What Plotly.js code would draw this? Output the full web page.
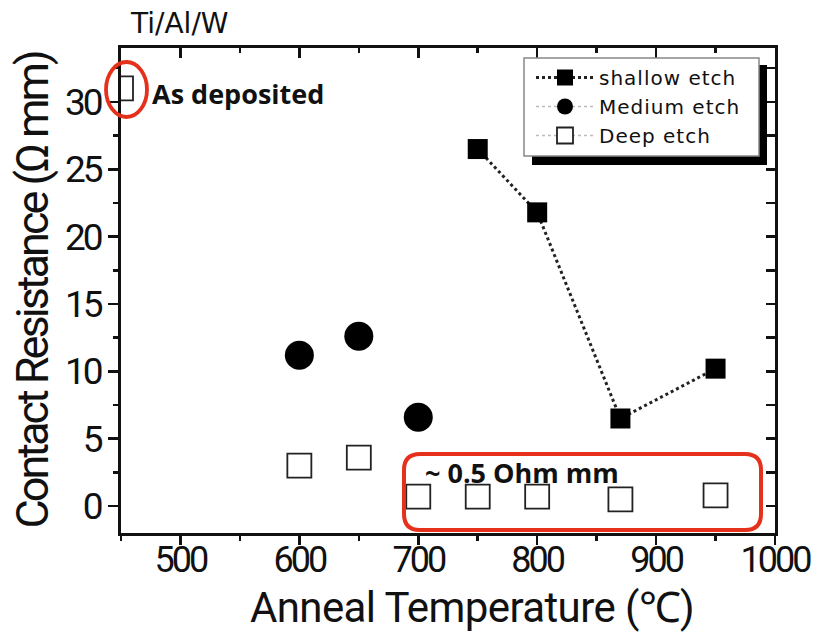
<!DOCTYPE html>
<html>
<head>
<meta charset="utf-8">
<script src="https://cdn.plot.ly/plotly-3.0.1.min.js"></script>
<style>
  html, body { margin: 0; padding: 0; background: #fff; }
  #chart { width: 821px; height: 632px; }
  .xtick text, .ytick text { letter-spacing: -3px; }
  .g-xtitle text { letter-spacing: -0.6px; }
  .g-xtitle { transform: translate(24px, 0px); }
  .g-ytitle text { letter-spacing: -3px; }
  .legendtext { letter-spacing: 1px; }
</style>
</head>
<body>
<div id="chart"></div>
<script>
// ---- data ----
const shallowTemp = [750, 800, 870, 950];
const shallowRes  = [26.5, 21.8, 6.5, 10.2];

const mediumTemp = [600, 650, 700];
const mediumRes  = [11.2, 12.6, 6.6];

const deepTemp = [450, 600, 650, 700, 750, 800, 870, 950];
const deepRes  = [31.0, 3.0, 3.6, 0.7, 0.7, 0.7, 0.5, 0.8];

const seriesNames = ['shallow etch', 'Medium etch', 'Deep etch'];
const xTitle = 'Anneal Temperature (℃)';
const yTitle = 'Contact Resistance (Ω mm)';
const stackLabel = 'Ti/Al/W';
const noteAsDep = 'As deposited';
const noteLow = '~ 0.5 Ohm mm';

// separate points with gaps so the legend shows a dotted line but no line joins the markers
function isolated(arr) {
  const out = [];
  arr.forEach((v, i) => { out.push(v); if (i < arr.length - 1) out.push(null); });
  return out;
}

const traces = [
  {
    name: seriesNames[0], x: shallowTemp, y: shallowRes,
    mode: 'lines+markers', type: 'scatter',
    line: { color: '#222', width: 3, dash: 'dot' },
    marker: { symbol: 'square', size: 20, color: '#000' }
  },
  {
    name: seriesNames[1], x: isolated(mediumTemp), y: isolated(mediumRes),
    mode: 'lines+markers', type: 'scatter', connectgaps: false,
    line: { color: '#bbb', width: 1.5, dash: 'dot' },
    marker: { symbol: 'circle', size: 29, color: '#000' }
  },
  {
    name: seriesNames[2], x: isolated(deepTemp), y: isolated(deepRes),
    mode: 'lines+markers', type: 'scatter', connectgaps: false,
    line: { color: '#bbb', width: 1.5, dash: 'dot' },
    marker: { symbol: 'square', size: 24, color: '#fff', line: { color: '#222', width: 1.8 } }
  },
  { x: [], y: [], xaxis: 'x2', yaxis: 'y2', showlegend: false, hoverinfo: 'skip', type: 'scatter', mode: 'markers' }
];

// paper-coordinate helpers (plot area: left 121, right 775, top 48, bottom 533)
const L = 121, R = 775, T = 48, B = 533;
const px = v => (v - L) / (R - L);
const py = v => (B - v) / (B - T);

function roundRect(x0, y0, x1, y1, rpx) {
  const a = px(x0), b = px(x1), top = py(y0), bot = py(y1);
  const rx = rpx / (R - L), ry = rpx / (B - T);
  return `M ${a + rx},${bot} L ${b - rx},${bot} Q ${b},${bot} ${b},${bot + ry} ` +
         `L ${b},${top - ry} Q ${b},${top} ${b - rx},${top} L ${a + rx},${top} ` +
         `Q ${a},${top} ${a},${top - ry} L ${a},${bot + ry} Q ${a},${bot} ${a + rx},${bot} Z`;
}

const layout = {
  width: 821, height: 632,
  margin: { l: L, r: 821 - R, t: T, b: 632 - B },
  paper_bgcolor: '#fff', plot_bgcolor: '#fff',
  showlegend: true,
  font: { family: 'Roboto, sans-serif', color: '#111' },
  xaxis: {
    range: [450, 1000], tick0: 500, dtick: 100,
    ticks: 'outside', ticklen: 9, tickwidth: 2.5, tickcolor: '#111',
    minor: { dtick: 50, ticks: 'outside', ticklen: 5, tickwidth: 2.5, tickcolor: '#111', showgrid: false },
    showline: true, linecolor: '#111', linewidth: 3,
    showgrid: false, zeroline: false,
    ticklabelstandoff: -16,
    tickfont: { family: 'Roboto, sans-serif', size: 36, color: '#111' },
    title: { text: xTitle, font: { family: 'Roboto, sans-serif', size: 42, color: '#111' }, standoff: 13 }
  },
  yaxis: {
    range: [-2, 34], tick0: 0, dtick: 5,
    ticks: 'outside', ticklen: 10, tickwidth: 2.5, tickcolor: '#111',
    minor: { dtick: 2.5, ticks: 'outside', ticklen: 5, tickwidth: 2.5, tickcolor: '#111', showgrid: false },
    showline: true, linecolor: '#111', linewidth: 3,
    showgrid: false, zeroline: false,
    tickfont: { family: 'Roboto, sans-serif', size: 37, color: '#111' },
    title: { text: yTitle, font: { family: 'Roboto, sans-serif', size: 45, color: '#111' }, standoff: 3 }
  },
  xaxis2: {
    overlaying: 'x', side: 'top', range: [450, 1000], tick0: 500, dtick: 100,
    ticks: 'inside', ticklen: 10, tickwidth: 2.5, tickcolor: '#111',
    minor: { dtick: 50, ticks: 'inside', ticklen: 5, tickwidth: 2.5, tickcolor: '#111', showgrid: false },
    showticklabels: false, showline: true, linecolor: '#111', linewidth: 3,
    showgrid: false, zeroline: false
  },
  yaxis2: {
    overlaying: 'y', side: 'right', range: [-2, 34], tick0: 0, dtick: 2.5,
    ticks: 'inside', ticklen: 9, tickwidth: 2.5, tickcolor: '#111',
    showticklabels: false, showline: true, linecolor: '#111', linewidth: 3,
    showgrid: false, zeroline: false
  },
  legend: {
    x: px(531), y: py(58), xanchor: 'left', yanchor: 'top',
    bgcolor: 'rgba(0,0,0,0)', borderwidth: 0,
    font: { family: 'DejaVu Sans, sans-serif', size: 20, color: '#111' },
    itemwidth: 58, tracegroupgap: 0
  },
  shapes: [
    // legend shadow and box
    { type: 'rect', xref: 'paper', yref: 'paper', x0: px(532), x1: px(767), y0: py(165), y1: py(65),
      fillcolor: '#000', line: { width: 0 }, layer: 'above' },
    { type: 'rect', xref: 'paper', yref: 'paper', x0: px(524), x1: px(759), y0: py(156), y1: py(58),
      fillcolor: '#fff', line: { color: '#888', width: 1.5 }, layer: 'above' },
    // red ellipse round the as-deposited point
    { type: 'circle', xref: 'paper', yref: 'paper', x0: px(106), x1: px(147), y0: py(117), y1: py(62),
      line: { color: '#e5301b', width: 3.8 }, layer: 'above' },
    // red rounded box round the low-resistance points
    { type: 'path', xref: 'paper', yref: 'paper', path: roundRect(404, 454, 761, 530, 16),
      line: { color: '#e5301b', width: 4 }, layer: 'above' }
  ],
  annotations: [
    { text: stackLabel, xref: 'paper', yref: 'paper', x: px(128), y: py(24), xanchor: 'left', yanchor: 'middle',
      showarrow: false, font: { family: 'DejaVu Sans, sans-serif', size: 28, color: '#111' } },
    { text: '<b>' + noteAsDep + '</b>', xref: 'paper', yref: 'paper', x: px(150), y: py(93), xanchor: 'left', yanchor: 'middle',
      showarrow: false, font: { family: 'Open Sans, sans-serif', size: 27, color: '#111' } },
    { text: '<b>' + noteLow + '</b>', xref: 'paper', yref: 'paper', x: px(423), y: py(472), xanchor: 'left', yanchor: 'middle',
      showarrow: false, font: { family: 'Open Sans, sans-serif', size: 27, color: '#111' } }
  ]
};

Plotly.newPlot('chart', traces, layout, { staticPlot: true, displayModeBar: false });
</script>
</body>
</html>
